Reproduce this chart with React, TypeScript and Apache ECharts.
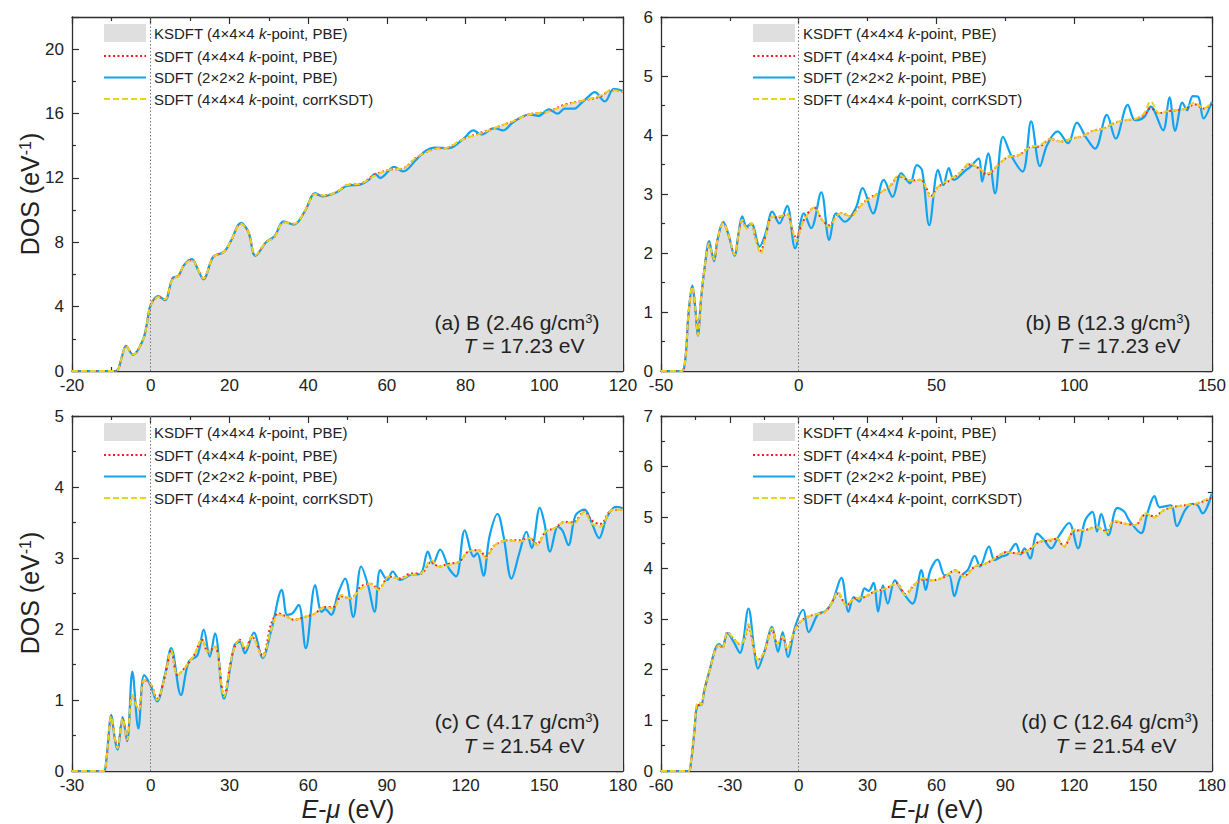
import React, { useEffect, useRef } from "react";
import * as echarts from "echarts";

const FF = "'Liberation Sans', Arial, Helvetica, sans-serif";
const TXT = "#222222";
const AXIS = "#2e2e2e";
const GRAY = "#dfdfdf";
const RED = "#ff1a1a";
const BLUE = "#0fa3f2";
const YELLOW = "#e8d31f";

const KS_NAME = "KSDFT (4×4×4 k-point, PBE)";
const S444_NAME = "SDFT (4×4×4 k-point, PBE)";
const S222_NAME = "SDFT (2×2×2 k-point, PBE)";
const CORR_NAME = "SDFT (4×4×4 k-point, corrKSDT)";

// ---------- Panel (a): B 2.46 g/cm3 ----------
const energyA = [-20, -9, -8.2, -7.3, -6.3, -4.5, -2, -1, 0, 2, 3.6, 5.6, 7, 8.5, 10.5, 12, 13.4, 15.9, 18.6, 20.4, 22.9, 24.8, 26.6, 29.3, 31.5, 33.75, 36.4, 39.1, 41.8, 43.6, 47.1, 49.8, 53.4, 57, 60.5, 64.1, 67.7, 72.1, 75.7, 79.3, 83.75, 87.3, 91.8, 96.25, 100.7, 105.2, 109.6, 114.1, 117.2, 120];
const ksdftA = [0, 0, 0.15, 0.9, 1.55, 1.03, 1.92, 2.9, 4.1, 4.6, 4.45, 5.75, 5.9, 6.6, 6.9, 6.3, 5.75, 7.1, 7.4, 8.1, 9.15, 8.65, 7.2, 8.0, 8.35, 9.25, 9.15, 9.9, 11.0, 10.9, 11.1, 11.55, 11.65, 12.15, 12.5, 12.6, 13.3, 13.8, 13.9, 14.4, 14.75, 15.1, 15.5, 15.95, 16.1, 16.5, 16.8, 17.1, 17.45, 17.35];
const sdft444A = [0, 0, 0.15, 0.9, 1.55, 1.03, 1.92, 2.9, 4.1, 4.6, 4.45, 5.75, 5.9, 6.6, 6.9, 6.3, 5.75, 7.1, 7.4, 8.1, 9.15, 8.65, 7.2, 8.0, 8.35, 9.25, 9.15, 9.9, 11.0, 10.9, 11.1, 11.55, 11.65, 12.2, 12.5, 12.6, 13.3, 13.8, 13.9, 14.4, 14.8, 15.1, 15.5, 15.95, 16.1, 16.55, 16.8, 17.05, 17.45, 17.35];
const corrA = [0, 0, 0.15, 0.9, 1.55, 1.03, 1.92, 2.9, 4.1, 4.6, 4.45, 5.75, 5.9, 6.6, 6.9, 6.3, 5.75, 7.1, 7.4, 8.1, 9.15, 8.65, 7.2, 8.0, 8.35, 9.25, 9.15, 9.9, 11.0, 10.9, 11.1, 11.55, 11.65, 12.15, 12.5, 12.6, 13.3, 13.8, 13.9, 14.4, 14.75, 15.1, 15.5, 15.95, 16.1, 16.5, 16.8, 17.1, 17.45, 17.35];
const sdft222A = [[-20, 0], [-9, 0], [-8.2, 0.15], [-7.3, 0.9], [-6.3, 1.57], [-4.5, 1.0], [-2, 1.92], [-1, 2.9], [0, 4.1], [2, 4.65], [3.6, 4.4], [5.6, 5.8], [7, 5.9], [8.5, 6.6], [10.5, 6.95], [12, 6.3], [13.4, 5.7], [15.9, 7.1], [18.6, 7.4], [20.4, 8.1], [22.9, 9.2], [24.8, 8.65], [26.6, 7.15], [29.3, 8.0], [31.5, 8.4], [33.75, 9.3], [36.4, 9.1], [39.1, 9.9], [41.8, 11.05], [43.6, 10.85], [47.1, 11.1], [49.8, 11.5], [53.4, 11.6], [55.5, 11.9], [57, 12.26], [58.3, 12.0], [61.9, 12.68], [64.1, 12.4], [67.7, 13.2], [70, 13.7], [72.1, 13.88], [75.7, 13.85], [79.3, 14.4], [82, 14.95], [84, 14.7], [87.3, 15.1], [89.5, 14.95], [91.8, 15.4], [94, 15.75], [96.25, 15.95], [98.5, 15.85], [101.2, 16.26], [103.4, 15.99], [105.2, 16.3], [107.5, 16.3], [109.6, 16.7], [111, 17.0], [112.8, 17.33], [115.4, 16.75], [117.7, 17.54], [120, 17.4]];

// ---------- Panel (b): B 12.3 g/cm3 ----------
const energyB = [-50, -42.5, -41.2, -40, -38.6, -37.6, -36.6, -35.5, -34.2, -32.5, -31.6, -30.7, -29.5, -27.4, -25.3, -23.3, -21.8, -20.5, -18.9, -17.2, -15.7, -13.8, -11.9, -9.6, -7.4, -4.2, -2.3, -0.8, 0.9, 2.8, 5.6, 8.5, 11.1, 13.6, 15.6, 18.8, 21.3, 23.9, 26.4, 29, 32.8, 36.6, 40.4, 44.3, 48.1, 50.6, 54.5, 58.3, 62.1, 65.3, 68.5, 72.3, 76.1, 80, 83.8, 87.6, 91.4, 95.3, 99.1, 102.9, 106.8, 110.6, 114.4, 118.2, 122.1, 125.3, 127.8, 131, 133.5, 137.4, 140.6, 143.8, 147, 150];
const ksdftB = [0, 0, 0.19, 0.98, 1.43, 1.09, 0.61, 1.2, 1.74, 2.16, 2.02, 1.89, 2.22, 2.51, 2.28, 1.97, 2.33, 2.56, 2.42, 2.51, 2.25, 2.02, 2.31, 2.62, 2.62, 2.66, 2.39, 2.22, 2.45, 2.62, 2.77, 2.56, 2.45, 2.62, 2.68, 2.62, 2.73, 2.87, 2.93, 3.01, 3.12, 3.32, 3.23, 3.24, 2.95, 3.12, 3.24, 3.35, 3.52, 3.44, 3.35, 3.49, 3.63, 3.66, 3.79, 3.83, 3.93, 3.89, 3.94, 3.98, 4.07, 4.11, 4.2, 4.25, 4.27, 4.36, 4.5, 4.37, 4.4, 4.42, 4.45, 4.52, 4.45, 4.54];
const sdft444B = [0, 0, 0.19, 0.98, 1.43, 1.09, 0.61, 1.2, 1.74, 2.16, 2.02, 1.89, 2.22, 2.51, 2.28, 1.97, 2.33, 2.56, 2.42, 2.51, 2.25, 2.04, 2.31, 2.62, 2.6, 2.66, 2.39, 2.25, 2.45, 2.64, 2.77, 2.56, 2.47, 2.62, 2.68, 2.62, 2.75, 2.87, 2.95, 3.01, 3.12, 3.3, 3.23, 3.24, 2.97, 3.12, 3.22, 3.35, 3.5, 3.44, 3.33, 3.49, 3.63, 3.66, 3.79, 3.81, 3.93, 3.89, 3.94, 3.98, 4.07, 4.11, 4.2, 4.25, 4.27, 4.34, 4.45, 4.37, 4.4, 4.42, 4.45, 4.52, 4.45, 4.52];
const corrB = [0, 0, 0.19, 0.98, 1.43, 1.09, 0.61, 1.2, 1.74, 2.16, 2.02, 1.89, 2.22, 2.51, 2.28, 1.97, 2.33, 2.56, 2.42, 2.51, 2.25, 1.99, 2.31, 2.62, 2.62, 2.66, 2.39, 2.2, 2.45, 2.62, 2.77, 2.56, 2.44, 2.62, 2.68, 2.62, 2.73, 2.87, 2.93, 3.01, 3.12, 3.32, 3.23, 3.24, 2.93, 3.12, 3.24, 3.35, 3.52, 3.44, 3.35, 3.49, 3.63, 3.66, 3.79, 3.83, 3.93, 3.89, 3.94, 3.98, 4.07, 4.11, 4.2, 4.25, 4.27, 4.36, 4.57, 4.37, 4.4, 4.42, 4.45, 4.55, 4.45, 4.54];
const sdft222B = [[-50, 0], [-42.5, 0], [-41.2, 0.19], [-40, 0.98], [-38.6, 1.45], [-37.6, 1.09], [-36.6, 0.6], [-35.5, 1.2], [-34.2, 1.74], [-32.5, 2.2], [-31.6, 2.02], [-30.7, 1.86], [-29.5, 2.22], [-27.4, 2.53], [-25.3, 2.28], [-23.3, 1.95], [-21.8, 2.35], [-20.5, 2.62], [-18.9, 2.45], [-17.2, 2.5], [-14.2, 2.11], [-11.9, 2.35], [-9.6, 2.7], [-7, 2.5], [-4.2, 2.8], [-1.3, 2.08], [1.9, 2.67], [4.5, 2.42], [8.2, 3.03], [11.1, 2.22], [13.6, 2.67], [16.8, 2.53], [20.7, 2.76], [23.2, 3.1], [27, 2.67], [30.9, 3.24], [34.1, 2.95], [37.2, 3.35], [40.4, 3.18], [42.9, 3.49], [44.8, 3.4], [47.4, 2.47], [50.6, 3.41], [52.5, 3.15], [54.5, 3.44], [56.4, 3.24], [60.8, 3.41], [62.1, 3.45], [65.3, 3.6], [66.6, 3.21], [68.8, 3.69], [71.3, 3.01], [74.2, 3.97], [77.4, 3.63], [81.3, 3.38], [84.4, 4.23], [87.6, 3.47], [90.2, 3.83], [94, 4.06], [97.8, 3.86], [101, 4.21], [104.2, 3.97], [107.6, 3.77], [111.9, 4.34], [115.1, 3.94], [119.5, 4.51], [122.1, 4.25], [125.3, 4.3], [127.8, 4.48], [132.3, 4.08], [134.6, 4.64], [136.7, 4.07], [139.3, 4.55], [141, 4.42], [143.1, 4.66], [145, 4.65], [147, 4.28], [150, 4.56]];

// ---------- Panel (c): C 4.17 g/cm3 ----------
const energyC = [-30, -18, -17, -15, -13.8, -12.7, -10.7, -9, -7, -4.6, -2.5, 0, 2.4, 5.4, 7.8, 10.2, 12.9, 16.5, 19.6, 21.8, 24.5, 27.9, 31.2, 33.9, 36, 38.6, 42.6, 46, 48.7, 52, 54.7, 58.7, 62.7, 66.1, 69.4, 72.8, 76.1, 80.2, 83.5, 86.9, 90.9, 94.9, 98.9, 102.9, 107, 109.7, 113.7, 117.7, 121, 125.1, 127.7, 131.1, 136.4, 140.5, 144.5, 147.2, 150.5, 153.9, 157.9, 161, 165.3, 168, 171.3, 176, 180];
const ksdftC = [0, 0, 0.13, 0.77, 0.5, 0.32, 0.74, 0.44, 1.07, 0.86, 1.28, 1.23, 1.0, 1.33, 1.7, 1.35, 1.45, 1.63, 1.85, 1.68, 1.75, 1.05, 1.66, 1.85, 1.72, 1.89, 1.61, 2.01, 2.22, 2.17, 2.13, 2.17, 2.22, 2.31, 2.29, 2.48, 2.43, 2.57, 2.64, 2.55, 2.74, 2.71, 2.76, 2.78, 2.97, 2.88, 2.9, 2.95, 3.09, 3.11, 3.0, 3.18, 3.25, 3.23, 3.28, 3.18, 3.37, 3.42, 3.51, 3.48, 3.65, 3.51, 3.46, 3.68, 3.68];
const sdft444C = [0, 0, 0.13, 0.77, 0.5, 0.32, 0.74, 0.44, 1.07, 0.86, 1.28, 1.23, 1.02, 1.33, 1.7, 1.35, 1.45, 1.63, 1.85, 1.68, 1.75, 1.07, 1.66, 1.85, 1.72, 1.89, 1.63, 2.08, 2.22, 2.17, 2.13, 2.17, 2.22, 2.31, 2.31, 2.46, 2.43, 2.6, 2.64, 2.57, 2.74, 2.71, 2.78, 2.78, 2.95, 2.88, 2.92, 2.95, 3.09, 3.11, 3.02, 3.18, 3.25, 3.25, 3.28, 3.2, 3.37, 3.42, 3.51, 3.5, 3.66, 3.53, 3.48, 3.68, 3.68];
const corrC = [0, 0, 0.13, 0.77, 0.5, 0.32, 0.74, 0.44, 1.07, 0.86, 1.28, 1.23, 1.0, 1.33, 1.7, 1.35, 1.45, 1.63, 1.85, 1.68, 1.75, 1.05, 1.66, 1.85, 1.72, 1.89, 1.61, 2.0, 2.2, 2.17, 2.13, 2.17, 2.22, 2.31, 2.29, 2.48, 2.43, 2.57, 2.64, 2.55, 2.74, 2.71, 2.76, 2.78, 2.97, 2.88, 2.9, 2.95, 3.09, 3.11, 3.0, 3.18, 3.25, 3.23, 3.28, 3.18, 3.37, 3.42, 3.51, 3.48, 3.65, 3.49, 3.44, 3.68, 3.68];
const sdft222C = [[-30, 0], [-18, 0], [-17, 0.13], [-15, 0.79], [-13.8, 0.48], [-12.7, 0.3], [-10.7, 0.76], [-9, 0.42], [-7, 1.4], [-4.7, 0.6], [-2.5, 1.35], [0, 1.2], [2.4, 0.98], [5.4, 1.35], [7.8, 1.73], [11.5, 1.07], [14.5, 1.54], [17.8, 1.63], [20.2, 1.99], [22.5, 1.61], [24.5, 1.94], [27.9, 1.02], [31.9, 1.77], [34, 1.82], [35.9, 1.66], [39.3, 1.95], [42.6, 1.59], [46, 1.99], [50, 2.55], [52, 2.2], [54, 2.22], [56.4, 2.34], [59.1, 1.73], [62.7, 2.62], [65.1, 2.24], [66.5, 2.28], [68.8, 2.2], [71.4, 2.5], [74.1, 2.71], [77.2, 2.17], [80.2, 2.88], [82.8, 2.62], [85.3, 2.24], [87.5, 2.83], [90.2, 2.69], [92.2, 2.81], [95, 2.69], [99, 2.76], [102.9, 2.78], [105.6, 3.09], [107.6, 2.92], [110.3, 3.12], [113.7, 2.85], [116.4, 2.74], [119.7, 3.39], [123.1, 3.02], [124.5, 3.07], [126.8, 2.75], [129.1, 3.3], [132.2, 3.62], [134.5, 3.3], [137.5, 2.71], [140.5, 3.07], [143.2, 3.37], [145.2, 3.14], [148.3, 3.71], [150, 3.5], [152.2, 3.09], [155.2, 3.44], [157, 3.38], [159.2, 3.18], [161.9, 3.6], [165.3, 3.68], [168, 3.5], [170.9, 3.28], [173.9, 3.58], [177.3, 3.72], [180, 3.7]];

// ---------- Panel (d): C 12.64 g/cm3 ----------
const energyD = [-60, -48, -47, -45.4, -44.5, -43.4, -42.5, -41.1, -38.8, -36.4, -34.6, -33.3, -31, -28.4, -25.9, -24, -21.9, -19.4, -17.8, -15, -11.6, -9.3, -7, -5, -2.3, 0, 3.9, 8.5, 11.6, 14.7, 17.1, 20.9, 24, 28.7, 32.6, 38, 42.6, 46.5, 50.4, 54.3, 58.1, 63.6, 68.2, 72.1, 76.7, 81.4, 86, 90.7, 95.3, 100, 104.7, 109.3, 112.4, 115.5, 120.2, 124.8, 129.5, 134.1, 137.2, 141.9, 146.5, 151.2, 155, 158.9, 163.6, 168.3, 172.9, 178.3, 180];
const ksdftD = [0, 0, 0.15, 0.81, 1.27, 1.33, 1.3, 1.6, 1.99, 2.38, 2.48, 2.42, 2.74, 2.61, 2.51, 2.56, 2.9, 2.38, 2.19, 2.35, 2.81, 2.51, 2.65, 2.4, 2.71, 2.91, 3.04, 3.1, 3.14, 3.34, 3.53, 3.27, 3.4, 3.43, 3.53, 3.6, 3.7, 3.47, 3.67, 3.8, 3.76, 3.83, 3.96, 3.83, 4.03, 4.09, 4.21, 4.32, 4.29, 4.35, 4.52, 4.56, 4.58, 4.43, 4.76, 4.75, 4.81, 4.71, 4.94, 4.88, 4.85, 5.08, 5.0, 5.14, 5.21, 5.24, 5.27, 5.37, 5.4];
const sdft444D = [0, 0, 0.15, 0.81, 1.25, 1.3, 1.3, 1.6, 1.99, 2.38, 2.48, 2.42, 2.74, 2.61, 2.51, 2.56, 2.85, 2.38, 2.19, 2.35, 2.78, 2.51, 2.63, 2.4, 2.71, 2.91, 3.04, 3.1, 3.14, 3.34, 3.5, 3.27, 3.4, 3.43, 3.53, 3.6, 3.7, 3.49, 3.67, 3.78, 3.76, 3.83, 3.96, 3.85, 4.03, 4.09, 4.21, 4.32, 4.29, 4.35, 4.52, 4.54, 4.58, 4.43, 4.74, 4.75, 4.81, 4.73, 4.92, 4.88, 4.85, 5.06, 5.02, 5.14, 5.21, 5.24, 5.27, 5.35, 5.4];
const corrD = [0, 0, 0.15, 0.81, 1.3, 1.36, 1.3, 1.6, 1.99, 2.38, 2.48, 2.42, 2.74, 2.61, 2.51, 2.56, 2.9, 2.38, 2.19, 2.35, 2.81, 2.51, 2.65, 2.4, 2.71, 2.91, 3.04, 3.1, 3.14, 3.34, 3.53, 3.27, 3.4, 3.43, 3.53, 3.6, 3.7, 3.47, 3.67, 3.8, 3.76, 3.83, 3.96, 3.83, 4.03, 4.09, 4.21, 4.32, 4.29, 4.35, 4.52, 4.56, 4.58, 4.43, 4.76, 4.75, 4.81, 4.71, 4.94, 4.88, 4.85, 5.08, 5.0, 5.14, 5.21, 5.24, 5.27, 5.37, 5.4];
const sdft222D = [[-60, 0], [-48, 0], [-47, 0.15], [-45.4, 0.81], [-44.5, 1.25], [-43.4, 1.3], [-42.5, 1.3], [-41.1, 1.6], [-38.8, 1.99], [-36.4, 2.4], [-34.6, 2.5], [-33.3, 2.45], [-31, 2.72], [-28.4, 2.55], [-25.6, 2.33], [-21.9, 3.2], [-19.4, 2.4], [-17.8, 2.02], [-15, 2.35], [-11.6, 2.84], [-9, 2.35], [-7, 2.74], [-4.7, 2.25], [-1.6, 2.84], [2, 3.18], [4.3, 2.74], [8.5, 3.1], [11.6, 3.15], [14.7, 3.34], [18.6, 3.81], [21.7, 3.14], [24, 3.43], [26.4, 3.34], [28.7, 3.6], [30.5, 3.55], [32.6, 3.71], [34.6, 3.14], [36.7, 3.66], [38.8, 3.3], [41.9, 3.76], [45, 3.55], [49.6, 3.3], [53.5, 3.96], [55.3, 3.57], [57.4, 3.96], [60.5, 4.17], [63.6, 3.86], [65.5, 3.86], [67.8, 3.45], [70.5, 3.83], [73.6, 3.96], [76.7, 4.24], [79, 4.03], [82.9, 4.43], [85.3, 4.16], [88.4, 4.23], [91, 4.27], [94.6, 4.48], [96.7, 4.27], [98.4, 4.39], [100.8, 4.19], [103.9, 4.68], [107, 4.55], [110, 4.39], [113.2, 4.62], [117.8, 4.89], [121.7, 4.39], [124.8, 4.94], [128, 5.11], [130, 4.72], [131.8, 5.07], [134.9, 4.65], [138.8, 5.19], [141.9, 5.11], [144, 4.94], [149.2, 4.69], [151.9, 5.08], [155, 5.42], [157.3, 5.2], [162.1, 5.24], [164.8, 4.83], [168.3, 5.14], [171.4, 5.27], [173.8, 5.24], [176, 5.08], [180, 5.47]];

// axis ranges [min, max, interval]
const xRangeA = [-20, 120, 20];
const xRangeB = [-50, 150, 50];
const xRangeC = [-30, 180, 30];
const xRangeD = [-60, 180, 30];
const yRangeA = [0, 22, 4];
const yRangeB = [0, 6, 1];
const yRangeC = [0, 5, 1];
const yRangeD = [0, 7, 1];

const panelLabels = [
  ["(a) B (2.46 g/cm{sup|3})", "{i|T} = 17.23 eV"],
  ["(b) B (12.3 g/cm{sup|3})", "{i|T} = 17.23 eV"],
  ["(c) C (4.17 g/cm{sup|3})", "{i|T} = 21.54 eV"],
  ["(d) C (12.64 g/cm{sup|3})", "{i|T} = 21.54 eV"],
];

const zip = (xs: number[], ys: number[]) => xs.map((x, i) => [x, ys[i]]);

const panels = [
  { grid: { left: 72, top: 17, width: 551, height: 354 }, xr: xRangeA, yr: yRangeA, e: energyA, ks: ksdftA, s444: sdft444A, corr: corrA, s222: sdft222A, legend: { left: 103, top: 24 }, lab: [[517, 322], [524, 345]] },
  { grid: { left: 661, top: 17, width: 552, height: 354 }, xr: xRangeB, yr: yRangeB, e: energyB, ks: ksdftB, s444: sdft444B, corr: corrB, s222: sdft222B, legend: { left: 752, top: 24 }, lab: [[1108, 322], [1120, 345]] },
  { grid: { left: 72, top: 416, width: 551, height: 355 }, xr: xRangeC, yr: yRangeC, e: energyC, ks: ksdftC, s444: sdft444C, corr: corrC, s222: sdft222C, legend: { left: 103, top: 423 }, lab: [[517, 721], [524, 745]] },
  { grid: { left: 661, top: 416, width: 552, height: 355 }, xr: xRangeD, yr: yRangeD, e: energyD, ks: ksdftD, s444: sdft444D, corr: corrD, s222: sdft222D, legend: { left: 752, top: 423 }, lab: [[1110, 721], [1116, 745]] },
];

function axisBase(r: number[]) {
  return {
    type: "value",
    min: r[0],
    max: r[1],
    interval: r[2],
    axisLine: { show: true, onZero: false, lineStyle: { color: AXIS, width: 1.3 } },
    axisTick: { show: true, inside: true, length: 7, lineStyle: { color: AXIS, width: 1.2 } },
    minorTick: { show: true, splitNumber: 2, length: 4, lineStyle: { color: AXIS, width: 1.2 } },
    splitLine: { show: false },
    minorSplitLine: { show: false },
  };
}

export default function App() {
  const ref = useRef<HTMLDivElement>(null);
  useEffect(() => {
    document.body.style.margin = "0";
    const chart = echarts.init(ref.current!, null, { renderer: "svg" });
    const labelStyle = { color: TXT, fontSize: 17, fontFamily: FF };

    const xAxis: any[] = [];
    const yAxis: any[] = [];
    panels.forEach((p, i) => {
      xAxis.push({ ...axisBase(p.xr), gridIndex: i, position: "bottom", axisLabel: { ...labelStyle, margin: 6 } });
      yAxis.push({
        ...axisBase(p.yr), gridIndex: i, position: "left",
        axisLabel: { ...labelStyle, margin: 8, formatter: (v: number) => (v > p.yr[1] - p.yr[2] / 2 && (p.yr[1] % p.yr[2]) !== 0 ? "" : String(v)) },
      });
    });
    panels.forEach((p, i) => {
      xAxis.push({ ...axisBase(p.xr), gridIndex: i, position: "top", axisLabel: { show: false } });
      yAxis.push({ ...axisBase(p.yr), gridIndex: i, position: "right", axisLabel: { show: false } });
    });

    const series: any[] = [];
    panels.forEach((p, i) => {
      series.push({
        name: KS_NAME, type: "line", xAxisIndex: i, yAxisIndex: i, data: zip(p.e, p.ks),
        symbol: "none", smooth: 0.35, lineStyle: { width: 0, color: GRAY }, itemStyle: { color: GRAY },
        areaStyle: { color: GRAY, opacity: 1 },
        markLine: {
          silent: true, symbol: ["none", "none"], label: { show: false },
          lineStyle: { type: [1.5, 2], color: "#777", width: 1 }, data: [{ xAxis: 0 }],
        },
      });
      series.push({
        name: S222_NAME, type: "line", xAxisIndex: i, yAxisIndex: i, data: p.s222,
        symbol: "none", smooth: 0.35, lineStyle: { width: 2.2, color: BLUE }, itemStyle: { color: BLUE },
      });
      series.push({
        name: S444_NAME, type: "line", xAxisIndex: i, yAxisIndex: i, data: zip(p.e, p.s444),
        symbol: "none", smooth: 0.35, lineStyle: { width: 2, color: RED, type: [2, 2.5] }, itemStyle: { color: RED },
      });
      series.push({
        name: CORR_NAME, type: "line", xAxisIndex: i, yAxisIndex: i, data: zip(p.e, p.corr),
        symbol: "none", smooth: 0.35, lineStyle: { width: 2, color: YELLOW, type: [6, 3] }, itemStyle: { color: YELLOW },
      });
    });

    const hideSym = { opacity: 0 };
    const legend = panels.map((p) => ({
      left: p.legend.left, top: p.legend.top, orient: "vertical", padding: 0,
      itemWidth: 42, itemHeight: 18, itemGap: 6.5, selectedMode: false,
      data: [
        { name: KS_NAME, icon: "rect", itemStyle: { color: GRAY } },
        { name: S444_NAME, itemStyle: hideSym },
        { name: S222_NAME, itemStyle: hideSym },
        { name: CORR_NAME, itemStyle: hideSym },
      ],
      formatter: (name: string) => name.replace("k-point", "{i|k}-point"),
      textStyle: {
        color: TXT, fontSize: 15, fontFamily: FF, padding: [0, 0, 0, 3],
        rich: { i: { fontStyle: "italic", fontSize: 15, fontFamily: FF, color: TXT } },
      },
    }));

    const graphic: any[] = [];
    const richCommon = (size: number) => ({
      sup: { fontSize: Math.round(size * 0.62), fontFamily: FF, fill: TXT, verticalAlign: "top", lineHeight: Math.round(size * 0.62) },
      i: { fontStyle: "italic", fontSize: size, fontFamily: FF, fill: TXT },
    });
    panels.forEach((p, i) => {
      [0, 1].forEach((k) => {
        graphic.push({
          type: "text", x: p.lab[k][0], y: p.lab[k][1], z: 100,
          style: {
            text: panelLabels[i][k], fontSize: 21, fontFamily: FF, fill: TXT,
            align: "center", verticalAlign: "middle", textAlign: "center", textVerticalAlign: "middle",
            rich: richCommon(21),
          },
        });
      });
    });
    [[30, 194], [30, 593]].forEach((pos) => {
      graphic.push({
        type: "text", x: pos[0], y: pos[1], rotation: Math.PI / 2, z: 100,
        style: {
          text: "DOS (eV{sup|-1})", fontSize: 25, fontFamily: FF, fill: TXT,
          align: "center", verticalAlign: "middle", textAlign: "center", textVerticalAlign: "middle",
          rich: richCommon(25),
        },
      });
    });
    [[348, 809], [937, 809]].forEach((pos) => {
      graphic.push({
        type: "text", x: pos[0], y: pos[1], z: 100,
        style: {
          text: "{i|E}-{i|μ} (eV)", fontSize: 25, fontFamily: FF, fill: TXT,
          align: "center", verticalAlign: "middle", textAlign: "center", textVerticalAlign: "middle",
          rich: richCommon(25),
        },
      });
    });

    chart.setOption({
      animation: false,
      backgroundColor: "#ffffff",
      grid: panels.map((p) => ({ ...p.grid, containLabel: false })),
      xAxis, yAxis, series, legend, graphic,
    });
    return () => chart.dispose();
  }, []);
  return <div ref={ref} style={{ width: 1229, height: 824 }} />;
}
